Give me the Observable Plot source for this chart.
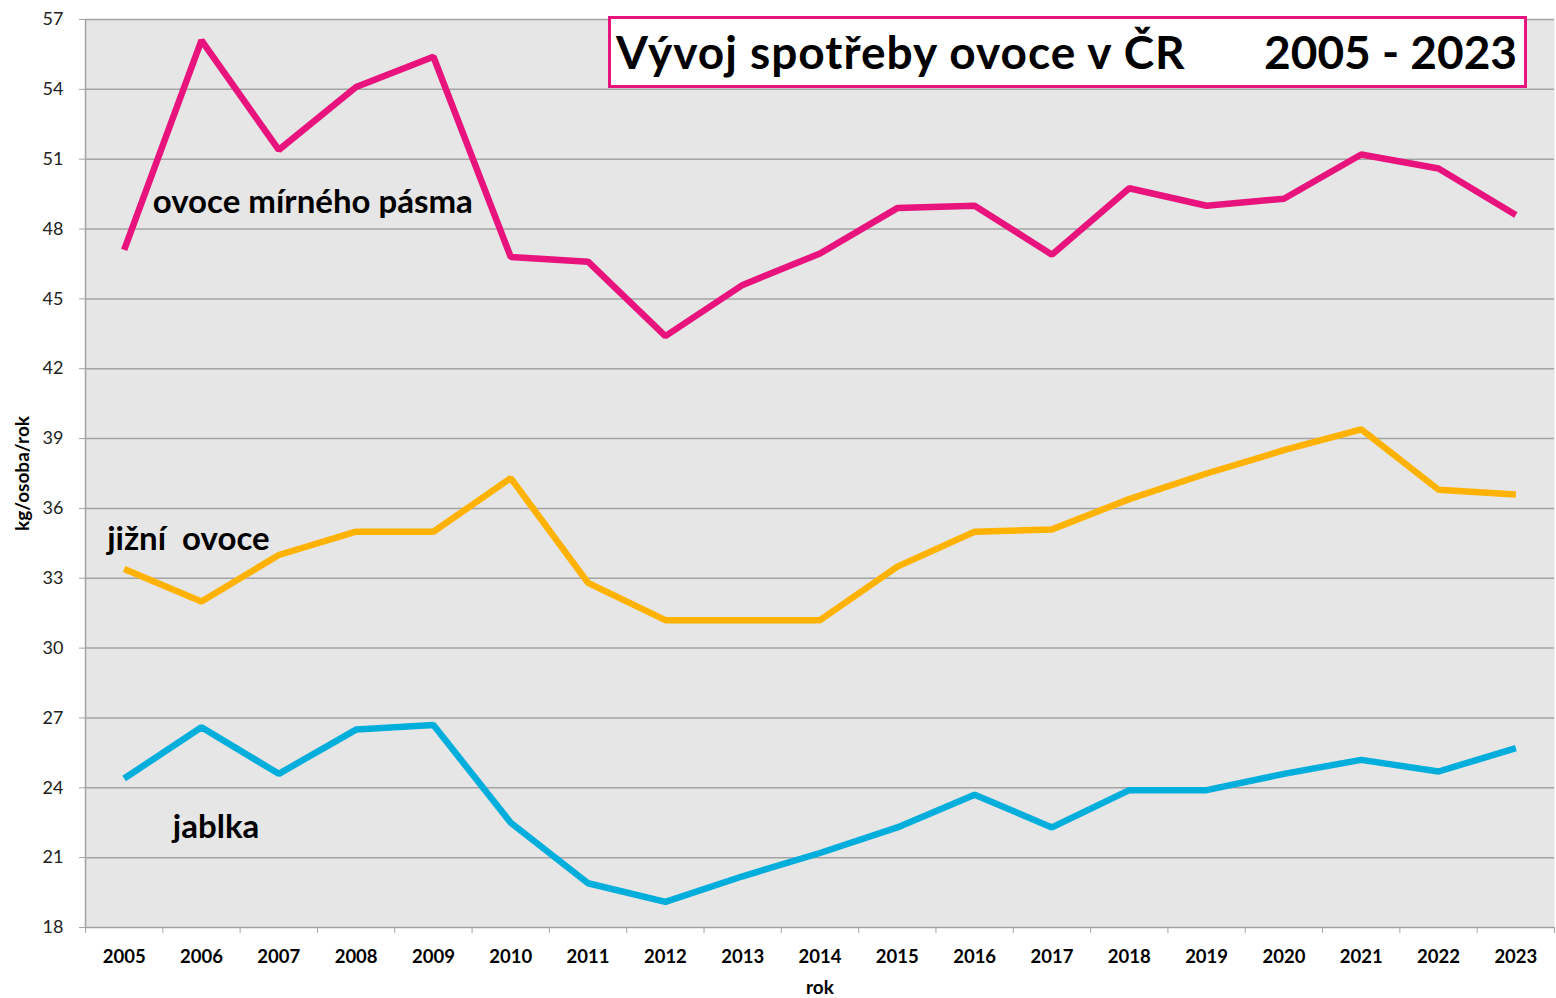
<!DOCTYPE html>
<html>
<head>
<meta charset="utf-8">
<script src="https://cdn.jsdelivr.net/npm/d3@7"></script>
<script src="https://cdn.jsdelivr.net/npm/@observablehq/plot@0.6"></script>
<style>
  html, body { margin: 0; padding: 0; background: #fff; }
  #wrap { position: relative; width: 1556px; height: 998px; font-family: Lato, "Open Sans", sans-serif; }
  #titlebox { position: absolute; left: 608px; top: 16px; width: 913px; height: 66px; background: #fff; border: 3px solid #e8137d; }
  #titlebox span { position: absolute; top: 8px; font-weight: bold; font-size: 46px; color: #000; line-height: 50px; white-space: nowrap; }
</style>
</head>
<body>
<div id="wrap">
  <div id="chart"></div>
  <div id="titlebox"><span id="t1" style="left:5px; letter-spacing:1px">Vývoj spotřeby ovoce v ČR</span><span id="t2" style="right:7px">2005 - 2023</span></div>
</div>
<script>
const years = [2005,2006,2007,2008,2009,2010,2011,2012,2013,2014,2015,2016,2017,2018,2019,2020,2021,2022,2023];
const mirnePasmo = [47.1,56.1,51.4,54.1,55.4,46.8,46.6,43.4,45.6,46.95,48.9,49.0,46.9,49.75,49.0,49.3,51.2,50.6,48.6];
const jizniOvoce = [33.4,32.0,34.0,35.0,35.0,37.3,32.8,31.2,31.2,31.2,33.5,35.0,35.1,36.4,37.5,38.5,39.4,36.8,36.6];
const jablka = [24.4,26.6,24.6,26.5,26.7,22.5,19.9,19.1,20.2,21.2,22.3,23.7,22.3,23.9,23.9,24.6,25.2,24.7,25.7];
const seriesNames = ["ovoce mírného pásma", "jižní  ovoce", "jablka"];
const seriesColors = ["#e8137d", "#ffb300", "#00aedb"];
const yTicks = [18,21,24,27,30,33,36,39,42,45,48,51,54,57];
const labelX = [2005.37, 2004.78, 2005.63];
const labelY = [49.14, 34.66, 22.29];

const allSeries = [mirnePasmo, jizniOvoce, jablka];
const rows = allSeries.flatMap((vals, i) => years.map((yr, j) => ({year: yr, value: vals[j], series: seriesNames[i]})));
const labels = seriesNames.map((s, i) => ({name: s, x: labelX[i], y: labelY[i]}));
const bounds = years.map(y => y - 0.5).concat([years[years.length - 1] + 0.5]);

const grid = "#a3a3a3";
const chart = Plot.plot({
  width: 1556,
  height: 998,
  marginLeft: 85,
  marginRight: 2,
  marginTop: 19,
  marginBottom: 71,
  style: {fontFamily: "Lato, 'Open Sans', sans-serif", background: "#fff", color: "#000"},
  x: {domain: [2004.5, 2023.5]},
  y: {domain: [18, 57]},
  color: {domain: seriesNames, range: seriesColors},
  marks: [
    Plot.frame({fill: "#e6e6e6", stroke: null}),
    Plot.ruleY(yTicks, {stroke: grid, strokeWidth: 1.5}),
    Plot.ruleX([2004.5], {stroke: grid, strokeWidth: 1.5}),
    Plot.axisY({ticks: yTicks, tickSize: 6, tickPadding: 16, stroke: grid, fontSize: 18, label: null, fill: "#222"}),
    Plot.axisX({ticks: bounds, tickSize: 6, tickFormat: () => "", stroke: grid, label: null}),
    Plot.axisX({ticks: years, tickSize: 0, tickPadding: 22, tickFormat: d => String(d), fontSize: 18.5, fontWeight: "bold", label: null}),
    Plot.line(rows, {x: "year", y: "value", z: "series", stroke: "series", strokeWidth: 6.5, strokeLinejoin: "miter", strokeLinecap: "butt"}),
    Plot.text(labels, {x: "x", y: "y", text: "name", textAnchor: "start", fontSize: 33, fontWeight: "bold", fill: "#000"}),
    Plot.text(["rok"], {frameAnchor: "bottom", dy: 66, fontSize: 19, fontWeight: "bold", fill: "#000"}),
    Plot.text(["kg/osoba/rok"], {frameAnchor: "left", textAnchor: "middle", dx: -63, rotate: -90, fontSize: 19, fontWeight: "bold", fill: "#000"})
  ]
});
document.getElementById("chart").appendChild(chart);
</script>
</body>
</html>
